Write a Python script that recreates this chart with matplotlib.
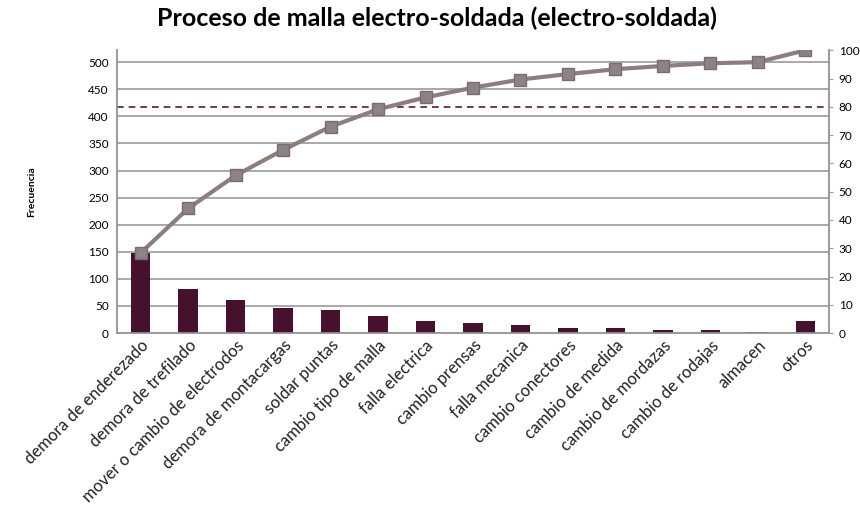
import numpy as np
import matplotlib
matplotlib.use("Agg")
import matplotlib.pyplot as plt

plt.rcParams['font.family'] = ['Lato', 'DejaVu Sans']

categories = [
    "demora de enderezado", "demora de trefilado", "mover o cambio de electrodos",
    "demora de montacargas", "soldar puntas", "cambio tipo de malla",
    "falla electrica", "cambio prensas", "falla mecanica", "cambio conectores",
    "cambio de medida", "cambio de mordazas", "cambio de rodajas", "almacen", "otros",
]
frecuencia = [148, 82, 61, 47, 43, 32, 22, 18, 15, 10, 9, 6, 5, 2, 22]
left_ticks = [0, 50, 100, 150, 200, 250, 300, 350, 400, 450, 500]
right_ticks = [0, 10, 20, 30, 40, 50, 60, 70, 80, 90, 100]
umbral = 80

BAR = "#46112d"
LINE = "#8b7d83"
GRID = "#9a9a9a"

total = sum(frecuencia)
acumulado = np.cumsum(frecuencia) / total * 100
x = np.arange(len(categories))

fig = plt.figure(figsize=(8.6, 5.18), dpi=100)
ax = fig.add_axes([0.136, 0.357, 0.828, 0.546])
ax2 = ax.twinx()

ax.bar(x, frecuencia, width=0.41, color=BAR, zorder=3)
ax.set_xlim(-0.5, len(categories) - 0.5)
ax.set_ylim(0, total)
ax.set_yticks(left_ticks)
ax.yaxis.grid(True, color=GRID, linewidth=1.2, zorder=0)
ax.set_axisbelow(True)
ax.tick_params(axis="y", length=0, labelsize=8.5, pad=6)
ax.tick_params(axis="x", length=0, labelsize=12, pad=3, labelcolor="#222222")
ax.set_xticks(x)
ax.set_xticklabels(categories, rotation=45, ha="right", rotation_mode="anchor")
ax.set_ylabel("Frecuencia", fontsize=7.5, fontweight="bold", labelpad=37)

ax2.plot(x, acumulado, color=LINE, linewidth=3, marker="s", markersize=9,
         markerfacecolor="#8e8188", markeredgecolor="#7a6c72", zorder=4)
ax2.axhline(umbral, color="#5a1a3c", linestyle=(0, (4, 3)), linewidth=1.2)
ax2.set_ylim(0, 100)
ax2.set_yticks(right_ticks)
ax2.tick_params(axis="y", length=3, color=GRID, labelsize=8.5, pad=4)

for a in (ax, ax2):
    a.spines["top"].set_visible(False)
    for side in ("left", "right", "bottom"):
        a.spines[side].set_color(GRID)
        a.spines[side].set_linewidth(1.2)

fig.suptitle("Proceso de malla electro-soldada (electro-soldada)",
             fontsize=18, fontweight="bold", x=0.508, y=0.988)

fig.savefig("out.png", dpi=100)
